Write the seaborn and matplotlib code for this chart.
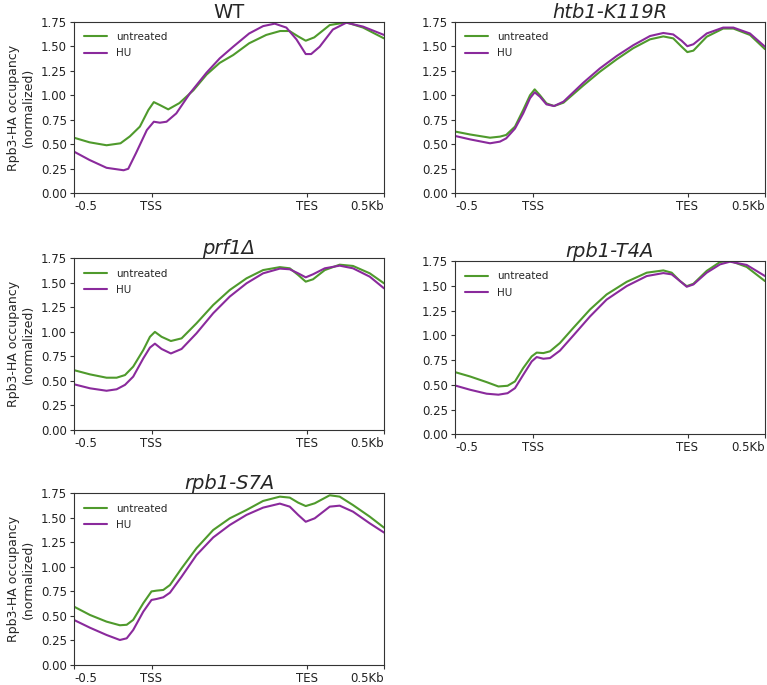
import matplotlib
matplotlib.use("Agg")
import matplotlib.pyplot as plt
import seaborn as sns
import pandas as pd

# ---- data (bin positions 0..200; TSS at 50, TES at 150) ----
tick_pos = [0, 50, 150, 200]
tick_labels = ["-0.5", "TSS", "TES", "0.5Kb"]
series_names = ["untreated", "HU"]

wt_unt_x = [0, 10, 21, 30, 36, 42.5, 48, 51.5, 55.4, 60.8, 68, 77, 85.5, 94, 102.7, 113, 124, 133, 139, 144.6, 149.5, 155, 165, 175.7, 186.5, 200]
wt_unt_y = [0.567, 0.52, 0.49, 0.51, 0.58, 0.68, 0.85, 0.93, 0.90, 0.856, 0.92, 1.05, 1.21, 1.33, 1.41, 1.53, 1.615, 1.655, 1.655, 1.60, 1.556, 1.59, 1.716, 1.743, 1.69, 1.58]
wt_hu_x = [0, 10, 21, 32, 35, 40, 47, 51.5, 55.4, 59.7, 66, 74.8, 85.5, 94, 102.7, 113, 122, 129.5, 137, 143.5, 149.5, 153, 158.5, 167, 175.7, 186.5, 200]
wt_hu_y = [0.425, 0.34, 0.26, 0.235, 0.25, 0.41, 0.645, 0.73, 0.72, 0.73, 0.815, 1.02, 1.23, 1.376, 1.495, 1.63, 1.705, 1.73, 1.69, 1.57, 1.42, 1.42, 1.495, 1.67, 1.74, 1.70, 1.615]

htb_x = [0, 9.7, 22.6, 29, 33, 38.7, 44, 48.4, 51.4, 54.8, 59, 63.9, 70, 82.8, 93.5, 104.3, 115, 125.8, 134.4, 140.8, 146.2, 149.9, 153.8, 162.4, 173, 179.6, 190.3, 200]
htb_unt_y = [0.63, 0.60, 0.567, 0.578, 0.595, 0.68, 0.85, 1.00, 1.06, 1.00, 0.917, 0.89, 0.924, 1.10, 1.24, 1.366, 1.48, 1.57, 1.60, 1.58, 1.495, 1.44, 1.455, 1.597, 1.68, 1.68, 1.615, 1.47]
htb_hu_y = [0.585, 0.55, 0.51, 0.527, 0.56, 0.66, 0.815, 0.97, 1.03, 0.985, 0.907, 0.89, 0.935, 1.128, 1.274, 1.40, 1.51, 1.604, 1.635, 1.62, 1.556, 1.50, 1.52, 1.63, 1.69, 1.69, 1.63, 1.495]

prf_x = [0, 10.3, 21, 27.5, 32.9, 38.2, 44.7, 49, 52.2, 56.5, 62.5, 69.4, 79, 89.8, 100.5, 111.3, 122, 132.8, 139.2, 144.6, 149.5, 154.2, 161.8, 171.4, 180, 190.8, 200]
prf_unt_y = [0.61, 0.567, 0.533, 0.533, 0.56, 0.646, 0.815, 0.95, 1.00, 0.95, 0.907, 0.934, 1.087, 1.274, 1.427, 1.546, 1.63, 1.66, 1.648, 1.58, 1.512, 1.536, 1.63, 1.685, 1.672, 1.597, 1.495]
prf_hu_y = [0.466, 0.425, 0.40, 0.415, 0.46, 0.544, 0.73, 0.84, 0.88, 0.826, 0.78, 0.826, 0.985, 1.19, 1.36, 1.495, 1.597, 1.645, 1.638, 1.597, 1.556, 1.587, 1.648, 1.675, 1.648, 1.563, 1.444]

t4a_x = [0, 9.7, 20.4, 28, 33.9, 38.7, 44, 49.5, 52.7, 57, 61.3, 67.7, 76.3, 87.1, 97.8, 110.8, 123.7, 134.4, 139.8, 145.2, 149.5, 153.8, 162.4, 171, 177.4, 188.2, 200]
t4a_unt_y = [0.628, 0.584, 0.527, 0.483, 0.49, 0.534, 0.669, 0.787, 0.825, 0.82, 0.838, 0.922, 1.074, 1.26, 1.412, 1.54, 1.632, 1.655, 1.632, 1.547, 1.496, 1.52, 1.65, 1.74, 1.752, 1.69, 1.547]
t4a_hu_y = [0.493, 0.45, 0.41, 0.40, 0.415, 0.466, 0.60, 0.736, 0.78, 0.763, 0.77, 0.845, 0.997, 1.19, 1.36, 1.497, 1.598, 1.628, 1.615, 1.547, 1.49, 1.513, 1.632, 1.716, 1.743, 1.71, 1.598]

s7a_x = [0, 10.3, 21, 29.6, 34, 38.2, 44.7, 50, 53.3, 57.6, 61.9, 69.4, 79, 89.8, 100.5, 111.3, 122, 132.8, 139.2, 144.6, 149.5, 155.3, 165, 171.4, 180, 190.8, 200]
s7a_unt_y = [0.595, 0.51, 0.442, 0.405, 0.41, 0.46, 0.63, 0.75, 0.758, 0.765, 0.815, 0.985, 1.19, 1.376, 1.495, 1.58, 1.672, 1.716, 1.706, 1.655, 1.62, 1.648, 1.73, 1.716, 1.63, 1.512, 1.40]
s7a_hu_y = [0.459, 0.38, 0.306, 0.255, 0.272, 0.357, 0.544, 0.663, 0.673, 0.69, 0.737, 0.90, 1.12, 1.30, 1.427, 1.53, 1.604, 1.645, 1.614, 1.53, 1.46, 1.495, 1.614, 1.624, 1.563, 1.444, 1.35]

titles = ["WT", "htb1-K119R", "prf1\u0394", "rpb1-T4A", "rpb1-S7A"]
italic = [False, True, True, True, True]
panels = [
    (wt_unt_x, wt_unt_y, wt_hu_x, wt_hu_y),
    (htb_x, htb_unt_y, htb_x, htb_hu_y),
    (prf_x, prf_unt_y, prf_x, prf_hu_y),
    (t4a_x, t4a_unt_y, t4a_x, t4a_hu_y),
    (s7a_x, s7a_unt_y, s7a_x, s7a_hu_y),
]

# ---- styling ----
sns.set_style("ticks")
plt.rcParams["font.family"] = ["DejaVu Sans"]
plt.rcParams["lines.solid_joinstyle"] = "round"
palette = {"untreated": "#4f9a2c", "HU": "#8a2a9c"}

W, H = 767, 685
fig = plt.figure(figsize=(W / 100, H / 100), dpi=100)

# axes boxes in pixels (left, top, right, bottom)
boxes = [
    (74, 21.7, 384, 193.3),
    (455, 21.7, 765, 193.3),
    (74, 258.3, 384, 430),
    (455, 261, 765, 434.3),
    (74, 493.3, 384, 665),
]

for i, (box, (ux, uy, hx, hy)) in enumerate(zip(boxes, panels)):
    l, t, r, b = box
    ax = fig.add_axes([l / W, 1 - b / H, (r - l) / W, (b - t) / H])
    df = pd.concat([
        pd.DataFrame({"bin": ux, "value": uy, "condition": "untreated"}),
        pd.DataFrame({"bin": hx, "value": hy, "condition": "HU"}),
    ])
    sns.lineplot(data=df, x="bin", y="value", hue="condition",
                 hue_order=series_names, palette=palette, linewidth=1.5,
                 ax=ax, sort=True, estimator=None)
    ax.set_xlim(0, 200)
    ax.set_ylim(0, 1.75)
    ax.set_yticks([0, 0.25, 0.5, 0.75, 1.0, 1.25, 1.5, 1.75])
    ax.set_xticks(tick_pos)
    ax.set_xticklabels(tick_labels)
    labs = ax.get_xticklabels()
    labs[0].set_ha("left")
    labs[-1].set_ha("right")
    ax.tick_params(labelsize=8.5, length=3, width=0.8, pad=2,
                   colors="#333333", labelcolor="#222222")
    for s in ax.spines.values():
        s.set_visible(True)
        s.set_linewidth(0.8)
        s.set_color("#333333")
    ax.set_xlabel("")
    if i % 2 == 0:
        ax.set_ylabel("Rpb3-HA occupancy\n(normalized)", fontsize=9, labelpad=4)
    else:
        ax.set_ylabel("")
    ax.set_title(titles[i], fontsize=14, style="italic" if italic[i] else "normal", pad=3)
    leg = ax.legend(loc="upper left", frameon=False, fontsize=7.5, handlelength=2.2,
                    borderaxespad=0.6, labelspacing=0.6)
    for h in leg.get_lines():
        h.set_linewidth(1.5)

fig.savefig("out.png", dpi=100)
